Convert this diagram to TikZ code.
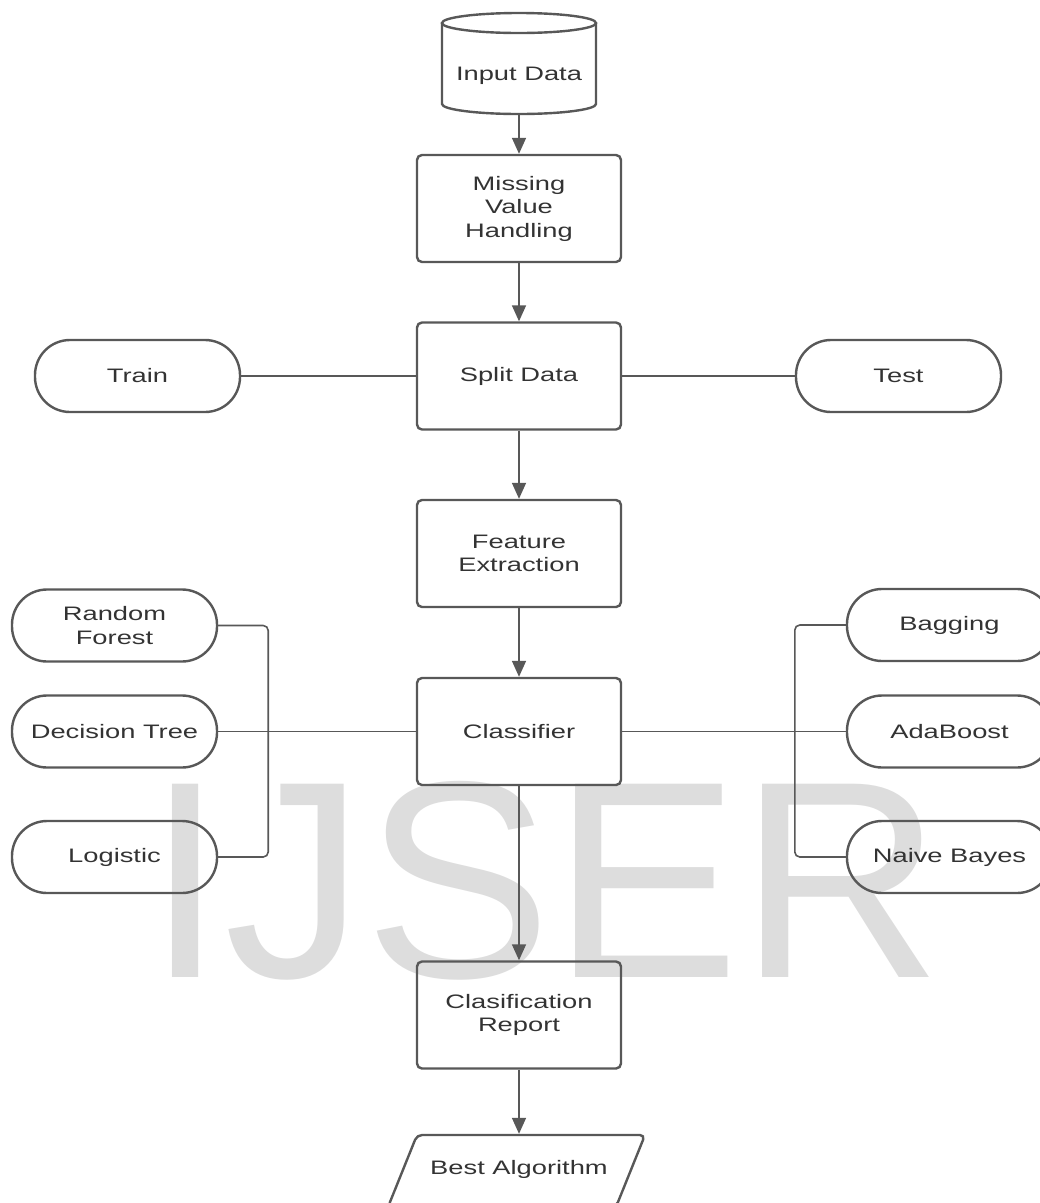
\documentclass[tikz,border=0pt]{standalone}
\usepackage{fontspec}
\usetikzlibrary{arrows.meta}
\newfontfamily\dfont[FakeStretch=1.4]{Liberation Sans}
\newfontfamily\wmfont{Liberation Sans}
\definecolor{linec}{HTML}{585858}
\definecolor{txtc}{HTML}{333333}
\definecolor{wmc}{HTML}{DDDDDD}
\tikzset{
  shp/.style={draw=linec, line width=2.4pt, text=txtc, font=\dfont\fontsize{19.5pt}{23.5pt}\selectfont, align=center, inner sep=0pt},
  procbox/.style={shp, rounded corners=5pt, minimum width=204pt, minimum height=107pt},
  pill/.style={shp, rounded corners=35pt, minimum width=205pt, minimum height=72pt},
  plain/.style={shp, draw=none},
  conn/.style={draw=linec, line width=1.6pt},
  arr/.style={conn, -{Triangle[width=14pt,length=16pt]}},
}
\begin{document}
\begin{tikzpicture}[x=1pt,y=-1pt]
\useasboundingbox (0,0) rectangle (1040,1203);
% watermark
\node[anchor=base west, inner sep=0pt, text=wmc, font=\wmfont\fontsize{281pt}{281pt}\selectfont] (wm) at (146,977) {IJSER};
% cylinder
\draw[draw=linec, line width=2.4pt] (519,23) ellipse (77 and 10);
\draw[draw=linec, line width=2.4pt] (442,23) -- (442,104) arc[start angle=180, end angle=360, x radius=77, y radius=-10] -- (596,23);
\node[plain, minimum width=154pt, minimum height=76pt] (input) at (519,76) {Input Data};
% main column
\node[procbox] (mvh) at (519,208.5) {Missing\\Value\\Handling};
\node[procbox] (split) at (519,376) {Split Data};
\node[procbox] (feat) at (519,553.5) {Feature\\Extraction};
\node[procbox] (cls) at (519,731.5) {Classifier};
\node[procbox] (rep) at (519,1015) {Clasification\\Report};
% parallelogram
\draw[draw=linec, line width=2.4pt, rounded corners=5pt] (417,1135) -- (645,1135) -- (616,1207) -- (388,1207) -- cycle;
\node[plain, minimum width=200pt, minimum height=69pt] (best) at (519,1169.5) {Best Algorithm};
% pills
\node[pill] (train) at (137.5,376) {Train};
\node[pill] (test) at (898.5,376) {Test};
\node[pill] (rf) at (114.5,625.5) {Random\\Forest};
\node[pill] (dt) at (114.5,731.5) {Decision Tree};
\node[pill] (log) at (114.5,857) {Logistic};
\node[pill] (bag) at (949.5,625) {Bagging};
\node[pill] (ada) at (949.5,731.5) {AdaBoost};
\node[pill] (nb) at (949.5,857) {Naive Bayes};
% arrows
\draw[arr] (input.south) -- (mvh.north);
\draw[arr] (mvh.south) -- (split.north);
\draw[arr] (split.south) -- (feat.north);
\draw[arr] (feat.south) -- (cls.north);
\draw[arr] (cls.south) -- (rep.north);
\draw[arr] (rep.south) -- (best.north);
% lines
\draw[conn] (train.east) -- (split.west);
\draw[conn] (split.east) -- (test.west);
\draw[conn] (dt.east) -- (cls.west);
\draw[conn] (cls.east) -- (ada.west);
\draw[conn, rounded corners=5pt] (rf.east) -| ([xshift=50pt]log.east) -- (log.east);
\draw[conn, rounded corners=5pt] (bag.west) -| ([xshift=-51pt]nb.west) -- (nb.west);
\end{tikzpicture}
\end{document}
